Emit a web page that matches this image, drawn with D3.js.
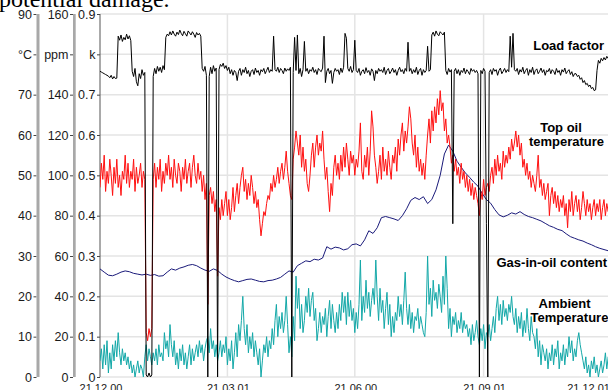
<!DOCTYPE html>
<html>
<head>
<meta charset="utf-8">
<script src="https://cdn.jsdelivr.net/npm/d3@7"></script>
<style>
  html, body { margin: 0; padding: 0; background: #fff; }
  svg { display: block; }
  .axis text { font-family: Arial, "Liberation Sans", sans-serif; font-size: 12.5px; fill: #1a1a1a; }
  .axis line { stroke: #444; }
  .label { font-family: Arial, "Liberation Sans", sans-serif; font-size: 13px; font-weight: bold; fill: #000; }
  .date { font-family: Arial, "Liberation Sans", sans-serif; font-size: 11px; fill: #1a1a1a; }
</style>
</head>
<body>
<div id="chart"></div>
<script>
// x axis: days since 21.12.00, one sample per day
var dateLabels = ["21.12.00", "21.03.01", "21.06.00", "21.09.01", "21.12.01"];
var dateTickDays = [0, 91, 182, 274, 365];

// left axes share the same grid rows
var tempTicks = [0, 10, 20, 30, 40, 50, 60, 70, 80, 90];
var tempLabels = ["0", "10", "20", "30", "40", "50", "60", "70", "°C", "90"];
var ppmLabels = ["0", "20", "40", "60", "80", "100", "120", "140", "ppm", "160"];
var kLabels = ["0", "0.1", "0.2", "0.3", "0.4", "0.5", "0.6", "0.7", "k", "0.9"];

// load factor (k), daily
var loadFactor = [
  .758,.756,.754,.752,.750,.748,.746,.742,.748,.739,
  .745,.740,.741,.845,.835,.848,.832,.842,.836,.850,
  .838,.846,.834,.758,.745,.765,.732,.722,.752,.740,
  .762,.748,.755,.005,0,.010,0,.005,.745,.765,
  .752,.770,.758,.768,.755,.772,.762,.842,.850,.846,
  .856,.848,.858,.850,.845,.855,.849,.860,.852,.846,
  .857,.851,.845,.858,.853,.848,.856,.850,.842,.854,
  .848,.852,.845,.765,.758,.770,.748,0,.745,.768,
  .752,.772,.758,.766,0,.762,.775,.770,.778,.765,
  .772,.760,.768,.752,.762,.748,.760,.755,.735,.758,
  .765,.748,.762,.755,.768,.752,.760,.745,.758,.762,
  .750,.766,.755,.760,.748,.762,.757,.765,.752,.760,
  .768,.755,.762,.758,.845,.762,.758,.768,.755,.765,
  .760,.752,.766,.758,.764,.760,.768,0,.755,.842,
  .760,.848,.752,.765,.745,.762,.832,.758,.765,.752,
  .762,.758,.768,.755,.762,.750,.765,.760,.757,.766,
  .845,.730,.758,.765,.752,.760,.728,.755,.765,.758,
  .762,.750,.766,.755,.768,.852,.840,.765,.758,.770,
  .755,.762,.835,.760,.755,.765,.748,.758,.762,.752,
  .767,.755,.760,.748,.764,.758,.735,.760,.752,.765,
  .758,.762,.755,.768,.750,.760,.765,.752,.758,.766,
  .755,.762,.748,.760,.768,.757,.762,.752,.765,.758,
  .830,.758,.765,.752,.762,.755,.768,.750,.760,.765,
  .748,.762,.755,.760,.820,.758,.762,.848,.855,.845,
  .858,.850,.846,.856,.852,.848,.855,.760,.750,.765,
  .756,.762,.380,.758,.765,.752,.762,.748,.760,.755,
  .766,.752,.762,.757,.750,.765,.758,.762,.755,.760,
  .752,0,.760,.752,.765,.758,.380,0,.755,.762,
  .750,.765,.758,.762,.748,.760,.766,.752,.758,.765,
  .755,.762,.757,.845,.768,.852,.762,.758,.765,.750,
  .762,.756,.768,.752,.760,.765,.748,.762,.755,.768,
  .750,.760,.764,.752,.758,.766,.755,.762,.748,.760,
  .757,.765,.752,.762,.758,.750,.765,.755,.760,.748,
  .762,.756,.766,.752,.758,.762,.750,.757,.745,.752,
  .752,.745,.748,.738,.742,.730,.735,.725,.728,.720,
  .724,.715,.718,.710,.712,.760,.785,.778,.790,.784,
  .792,.786,.795,.790,.798,.795
];

// top oil temperature (°C), daily
var topOil = [
  47,53,49,55,46,51,48,54,50,45,
  52,48,54,47,50,45,51,49,55,48,
  53,47,51,49,54,46,52,48,50,53,
  47,51,49,11,9,12,10,12,49,53,
  47,52,49,54,46,51,48,53,50,55,
  49,52,47,54,50,48,53,51,46,52,
  49,54,48,51,53,47,52,55,50,48,
  53,49,51,46,50,44,48,18,45,47,
  43,46,41,44,25,42,39,44,40,43,
  46,40,44,39,42,47,41,45,48,43,
  47,50,52,46,49,44,48,45,50,47,
  43,46,42,44,39,35,38,41,40,43,
  45,44,48,46,50,47,49,52,48,51,
  53,49,52,56,51,48,45,44,54,57,
  61,58,55,60,52,57,51,54,48,46,
  50,55,58,52,57,60,55,58,56,61,
  54,49,52,46,41,48,45,52,55,50,
  53,49,55,51,57,52,58,54,50,56,
  53,55,50,54,52,56,63,51,49,55,
  52,57,50,56,66,62,55,52,48,51,
  55,49,57,51,54,50,56,52,49,55,
  53,57,51,59,55,60,63,56,61,58,
  62,67,64,58,55,60,52,57,51,54,
  50,53,49,55,60,64,58,66,61,67,
  63,69,65,71,66,68,61,64,58,60,
  57,53,55,51,54,50,52,48,53,49,
  51,47,50,46,49,45,48,44,47,45,
  43,40,46,44,49,45,47,48,46,50,
  52,48,54,50,55,51,53,49,56,52,
  55,53,57,54,59,56,58,61,57,60,
  55,58,52,54,50,53,49,51,47,50,
  48,46,50,55,47,49,45,48,44,46,
  48,40,45,47,43,46,42,45,41,44,
  42,45,40,43,37,44,41,46,40,43,
  45,41,44,39,42,46,43,40,44,41,
  43,39,42,44,40,43,41,44,39,42,
  44,40,43,41,44,43
];

// gas-in-oil content (ppm), every 3 days
var gasStep = 3;
var gasInOil = [
  53.6,52,50.5,50.2,51,52,52.6,52.2,51.4,51,
  50.6,51,50.4,50.8,50,50.2,52,53.6,53,54,
  54.6,55.4,55.8,55.2,54,53,52.4,53.6,52.8,51,
  49.6,48.6,47.8,47.2,47.8,48.4,48.6,48,47.4,47.2,
  47.8,48,48.6,49.4,51,52.6,52,55.2,56.4,57.6,
  57.2,58.4,58,59,64.6,63.4,64.4,64,63,63.6,
  65.6,66,65,68,72.5,71.2,74,79,79.6,79,
  78.4,77.6,80,83.4,87.6,89,88,89.4,86,88,
  92.8,100,110.6,115,112,107,104,101.2,99,96.6,
  94.6,91,88,86.2,83,80.4,79.4,80.2,81.4,80.8,
  82,80.6,79.6,79,78.2,77.4,76.2,75,74.2,73.2,
  72.6,71,69.6,68.8,68,67.4,66.4,65.6,64.6,63.8,
  63.2,62.6,62
];

// ambient temperature (°C), daily
var ambient = [
  4,7,2,8,3,9,1,6,2,8,
  4,9,5,11,6,3,7,4,6,3,
  5,2,4,1,3,0,2,4,1,3,
  2,0,5,8,4,7,5,3,6,4,
  7,3,8,5,6,4,11,7,9,5,
  13,8,5,9,3,6,2,7,4,8,
  3,6,2,5,8,3,7,4,6,8,
  5,9,6,8,4,7,9,10,6,12,
  7,9,5,8,4,6,9,5,8,6,
  10,3,7,4,9,2,6,11,5,13,
  9,14,20,12,8,13,6,10,7,11,
  5,9,6,3,7,0,4,8,6,10,
  5,9,7,12,8,14,18,10,15,12,
  16,11,14,20,13,6,10,5,15,9,
  25,17,22,12,18,11,14,20,16,22,
  15,19,21,14,17,9,12,16,11,15,
  13,17,10,15,19,12,18,14,11,16,
  12,18,14,21,16,20,13,21,15,19,
  14,17,11,16,12,18,29,14,20,16,
  24,17,21,15,19,22,18,29,20,14,
  22,16,19,12,17,21,13,18,10,15,
  11,16,14,20,15,18,13,19,26,17,
  13,18,12,16,11,15,14,17,12,15,
  13,11,10,16,30,18,22,15,24,19,
  21,17,23,20,16,25,18,30,22,12,
  17,10,15,13,16,11,14,12,16,11,
  14,12,13,10,12,8,13,9,11,14,
  10,8,12,9,13,7,11,10,13,9,
  12,15,11,17,20,14,18,13,19,15,
  17,14,18,16,20,15,13,17,11,15,
  12,16,10,14,11,17,12,9,15,11,
  10,7,12,5,9,3,8,6,4,7,
  2,6,4,8,3,7,5,9,2,6,
  4,8,3,7,5,10,6,9,4,7,
  5,9,11,8,6,4,2,5,1,3,
  0,4,2,5,1,3,0,2,4,1,
  3,6,2,5,4,6
];

var width = 608, height = 390;
var plotLeft = 100, plotRight = 608, plotTop = 14, plotBottom = 377;

var svg = d3.select("#chart").append("svg")
  .attr("width", width).attr("height", height);

var x = d3.scaleLinear().domain([0, 365]).range([plotLeft, 611]);
var yT = d3.scaleLinear().domain([0, 90]).range([plotBottom, plotTop]);
var yPpm = d3.scaleLinear().domain([0, 180]).range([plotBottom, plotTop]);
var yK = d3.scaleLinear().domain([0, 0.9]).range([plotBottom, plotTop]);

// text from the page above the figure
svg.append("text")
  .attr("x", -1).attr("y", 7)
  .style("font-family", "'Liberation Serif', 'Times New Roman', serif")
  .style("font-size", "24px")
  .text("potential damage.");

// grid
svg.append("g").selectAll("line").data(tempTicks).enter().append("line")
  .attr("x1", plotLeft).attr("x2", plotRight)
  .attr("y1", function (d) { return yT(d); }).attr("y2", function (d) { return yT(d); })
  .attr("stroke", "#e4e4e4").attr("stroke-width", 1.5);
svg.append("g").selectAll("line").data(dateTickDays.slice(1, 4)).enter().append("line")
  .attr("x1", function (d) { return x(d); }).attr("x2", function (d) { return x(d); })
  .attr("y1", plotTop).attr("y2", plotBottom)
  .attr("stroke", "#e4e4e4").attr("stroke-width", 1.5);

// left axes
function leftAxis(scale, labels, xPos) {
  var g = svg.append("g").attr("class", "axis")
    .attr("transform", "translate(" + xPos + ",0)")
    .call(d3.axisLeft(scale).tickValues(scale.ticks(9).length ? tempTicks.map(function (t) { return scale.invert(yT(t)); }) : [])
      .tickSize(3).tickPadding(1.5)
      .tickFormat(function (d, i) { return labels[i]; }));
  g.select(".domain").remove();
  return g;
}
leftAxis(yT, tempLabels, 36.5);
leftAxis(yPpm, ppmLabels, 73);
leftAxis(yK, kLabels, 100);

svg.append("rect").attr("x", 36.5).attr("y", plotTop).attr("width", 3)
  .attr("height", plotBottom - plotTop).attr("fill", "#a8a8a8");
svg.append("rect").attr("x", 73).attr("y", plotTop).attr("width", 2.7)
  .attr("height", plotBottom - plotTop).attr("fill", "#a8a8a8");
svg.append("line").attr("x1", 100).attr("x2", 100)
  .attr("y1", plotTop).attr("y2", plotBottom)
  .attr("stroke", "#555").attr("stroke-width", 1);

// date labels (mostly cut off by the bottom edge)
svg.append("g").selectAll("text").data(dateLabels).enter().append("text")
  .attr("class", "date")
  .attr("x", function (d, i) { return i === dateLabels.length - 1 ? 610 : x(dateTickDays[i]) + 1; })
  .attr("y", 392)
  .attr("text-anchor", function (d, i) { return i === dateLabels.length - 1 ? "end" : "middle"; })
  .text(function (d) { return d; });

// series
svg.append("clipPath").attr("id", "plotClip").append("rect")
  .attr("x", plotLeft).attr("y", 0).attr("width", plotRight - plotLeft).attr("height", plotBottom + 1);
var plot = svg.append("g").attr("clip-path", "url(#plotClip)");

function drawLine(values, step, yScale, color) {
  var line = d3.line()
    .x(function (v, i) { return x(i * step); })
    .y(function (v) { return yScale(v); });
  plot.append("path").datum(values)
    .attr("d", line)
    .attr("fill", "none")
    .attr("stroke", color)
    .attr("stroke-width", 1);
}
drawLine(ambient, 1, yT, "#13a8a8");
drawLine(gasInOil, gasStep, yPpm, "#1a1a7a");
drawLine(topOil, 1, yT, "#ff1010");
drawLine(loadFactor, 1, yK, "#000000");

// series labels
var labels = [
  { text: "Load factor", x: 604, y: 50, anchor: "end" },
  { text: "Top oil", x: 561, y: 131.5, anchor: "middle" },
  { text: "temperature", x: 566.5, y: 145.5, anchor: "middle" },
  { text: "Gas-in-oil content", x: 607, y: 266.5, anchor: "end" },
  { text: "Ambient", x: 564.5, y: 307.5, anchor: "middle" },
  { text: "Temperature", x: 569.5, y: 321.5, anchor: "middle" }
];
svg.append("g").selectAll("text").data(labels).enter().append("text")
  .attr("class", "label")
  .attr("x", function (d) { return d.x; })
  .attr("y", function (d) { return d.y; })
  .attr("text-anchor", function (d) { return d.anchor; })
  .text(function (d) { return d.text; });
</script>
</body>
</html>
